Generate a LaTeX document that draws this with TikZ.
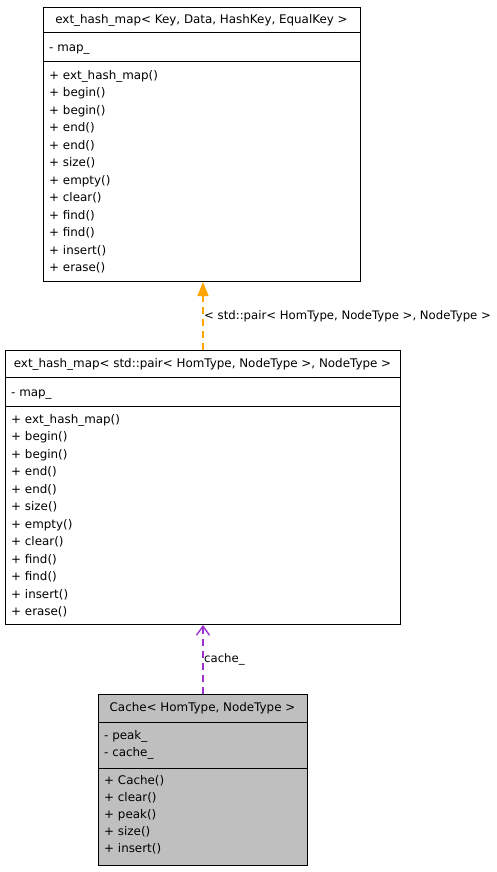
\documentclass[tikz,border=0pt]{standalone}
\usepackage{fontspec}
\setmainfont{DejaVu Sans}
\usetikzlibrary{arrows.meta}

\newcommand{\umlfont}{\fontsize{11.9}{13}\selectfont}
\newcommand{\labelfont}{\fontsize{11.7}{13}\selectfont}
\definecolor{inhorange}{HTML}{FFA500}
\definecolor{usepurple}{HTML}{9A32CD}
\definecolor{cachegray}{HTML}{BFBFBF}

\tikzset{
  classbox/.style={draw, line width=1pt, anchor=north west, inner sep=0pt},
  member/.style={anchor=west, inner sep=0pt, font=\umlfont, text height=9pt, text depth=2pt},
  title/.style={inner sep=0pt, font=\umlfont, text height=9pt, text depth=2pt},
  edgelabel/.style={right, inner sep=0.5pt, font=\labelfont}
}

\begin{document}
\begin{tikzpicture}[x=1pt, y=-1pt]
\useasboundingbox (0,0) rectangle (496,872);

%------------------ TEMPLATE ext_hash_map ------------------%
\node[classbox, minimum width=317pt, minimum height=274pt] (hashmap) at (43,7) {};
\draw[line width=1pt] (43,33) -- (360,33);
\draw[line width=1pt] (43,62) -- (360,62);
\node[title] (hashmapT) at (201.5,20)
  {ext\_hash\_map< Key, Data, HashKey, EqualKey >};
\node[member] (hashmapA) at (49,48) {- map\_};
\foreach \m [count=\i] in {ext\_hash\_map(), begin(), begin(), end(), end(), size(),
    empty(), clear(), find(), find(), insert(), erase()}
  \node[member] (hashmapM\i) at (49,{76+17.45*(\i-1)}) {+ \m};

%------------------ INSTANCE ext_hash_map ------------------%
\node[classbox, minimum width=395pt, minimum height=274pt] (pairmap) at (5,350) {};
\draw[line width=1pt] (5,377) -- (400,377);
\draw[line width=1pt] (5,406) -- (400,406);
\node[title] (pairmapT) at (202.5,363.5)
  {ext\_hash\_map< std::pair< HomType, NodeType >, NodeType >};
\node[member] (pairmapA) at (11,393) {- map\_};
\foreach \m [count=\i] in {ext\_hash\_map(), begin(), begin(), end(), end(), size(),
    empty(), clear(), find(), find(), insert(), erase()}
  \node[member] (pairmapM\i) at (11,{420+17.45*(\i-1)}) {+ \m};

%------------------ Cache ------------------%
\node[classbox, fill=cachegray, minimum width=209pt, minimum height=171pt] (cache) at (98,694) {};
\draw[line width=1pt] (98,722) -- (307,722);
\draw[line width=1pt] (98,768) -- (307,768);
\node[title] (cacheT) at (202.5,708) {Cache< HomType, NodeType >};
\node[member] (cacheA1) at (104,736) {- peak\_};
\node[member] (cacheA2) at (104,753) {- cache\_};
\foreach \m [count=\i] in {Cache(), clear(), peak(), size(), insert()}
  \node[member] (cacheM\i) at (104,{781+17*(\i-1)}) {+ \m};

%------------------ RELATIONS ------------------%
\draw[draw=inhorange, line width=1.4pt, dash pattern=on 7pt off 5pt,
      -{Triangle[length=14pt, width=11pt, fill=inhorange]}]
  (pairmap.north) -- (pairmap.north |- hashmap.south)
  node[edgelabel, pos=0.5, text=black] {< std::pair< HomType, NodeType >, NodeType >};

\draw[draw=usepurple, line width=1.4pt, dash pattern=on 7pt off 5pt,
      -{Straight Barb[length=9pt, width=13pt, line width=1.4pt]}]
  (cache.north) -- (pairmap.south)
  node[edgelabel, pos=0.5, text=black] {cache\_};

\end{tikzpicture}
\end{document}
